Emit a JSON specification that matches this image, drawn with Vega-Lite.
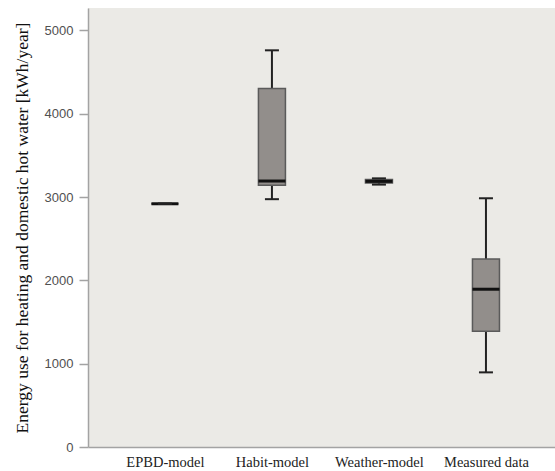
{
  "$schema": "https://vega.github.io/schema/vega-lite/v6.json",
  "width": 467,
  "height": 439,
  "autosize": "none",
  "padding": {"left": 88, "top": 8, "right": 0, "bottom": 24},
  "background": "white",
  "config": {"view": {"fill": "#ebeae6", "stroke": null}, "font": "Liberation Serif"},
  "data": {"values": [
    {"model": "EPBD-model", "lo": 2920, "q1": 2920, "med": 2920, "q3": 2920, "hi": 2920},
    {"model": "Habit-model", "lo": 2975, "q1": 3141, "med": 3193, "q3": 4305, "hi": 4762},
    {"model": "Weather-model", "lo": 3150, "q1": 3170, "med": 3189, "q3": 3210, "hi": 3225},
    {"model": "Measured data", "lo": 896, "q1": 1391, "med": 1894, "q3": 2258, "hi": 2986}
  ]},
  "encoding": {
    "x": {
      "field": "model", "type": "nominal", "sort": null,
      "scale": {"type": "point", "padding": 0.682, "align": 0.527},
      "axis": {"title": null, "labelAngle": 0, "ticks": false, "grid": false,
               "domainColor": "#a3a3a3", "domainWidth": 1.5,
               "labelFont": "Liberation Serif", "labelFontSize": 14.5, "labelColor": "#222222", "labelPadding": 8}
    }
  },
  "layer": [
    {"mark": {"type": "rule", "color": "#222222", "strokeWidth": 2},
     "encoding": {
       "y": {"field": "lo", "type": "quantitative",
             "scale": {"domain": [0, 5270], "nice": false, "zero": true},
             "axis": {"values": [0, 1000, 2000, 3000, 4000, 5000], "format": "d", "grid": false,
                      "tickSize": 9, "tickColor": "#a3a3a3", "tickWidth": 1.5,
                      "domainColor": "#a3a3a3", "domainWidth": 1.5,
                      "labelFont": "Liberation Sans", "labelFontSize": 13, "labelColor": "#505050", "labelPadding": 6,
                      "title": "Energy use for heating and domestic hot water [kWh/year]",
                      "titleFont": "Liberation Serif",
                      "titleFontSize": 17.5, "titleFontWeight": "normal", "titleColor": "#111111",
                      "titlePadding": 13}},
       "y2": {"field": "hi"}
     }},
    {"mark": {"type": "bar", "size": 27, "fill": "#928e8b", "stroke": "#5a5a5a", "strokeWidth": 1.5},
     "encoding": {"y": {"field": "q1", "type": "quantitative"}, "y2": {"field": "q3"}}},
    {"mark": {"type": "tick", "size": 27, "thickness": 3, "color": "#111111", "opacity": 1},
     "encoding": {"y": {"field": "med", "type": "quantitative"}}},
    {"mark": {"type": "tick", "size": 14, "thickness": 2, "color": "#222222", "opacity": 1},
     "encoding": {"y": {"field": "lo", "type": "quantitative"}}},
    {"mark": {"type": "tick", "size": 14, "thickness": 2, "color": "#222222", "opacity": 1},
     "encoding": {"y": {"field": "hi", "type": "quantitative"}}}
  ]
}
